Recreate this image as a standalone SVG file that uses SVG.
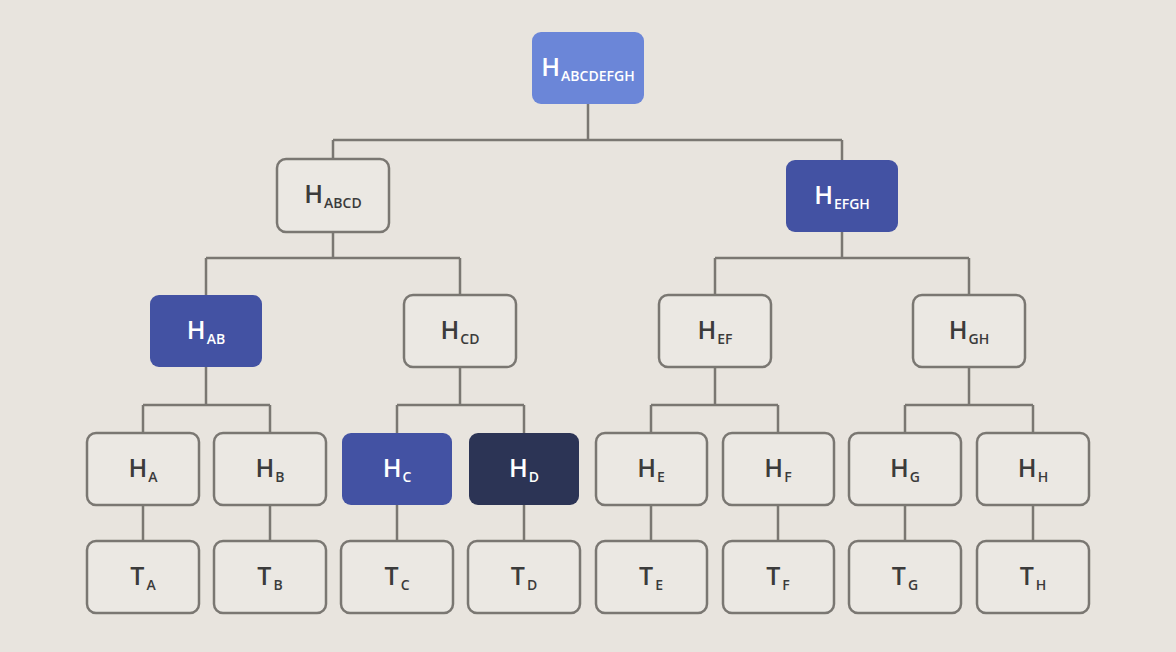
<svg xmlns="http://www.w3.org/2000/svg" width="1176" height="652" viewBox="0 0 1176 652">
<style>
.bg{fill:#e8e4de}
.box{fill:#ebe8e3;stroke:#7a7772;stroke-width:2.5}
.root{fill:#6b86d8}
.blue{fill:#4352a3}
.dark{fill:#2c3455}
.lbl{font-family:"Open Sans","Liberation Sans",sans-serif;font-weight:600;text-anchor:middle;fill:#3b3b3b}
.lbl.w{fill:#ffffff}
.big{font-size:25px}
.sub{font-size:14px}
.conn{fill:none;stroke:#7a7772;stroke-width:2.5}
</style>
<rect class="bg" x="0" y="0" width="1176" height="652"/>
<g id="connectors" class="conn">
<path d="M588 104V140M333 140H842M333 140V160M842 140V160"/>
<path d="M333 232V258M206 258H460M206 258V295M460 258V295"/>
<path d="M842 232V258M715 258H969M715 258V295M969 258V295"/>
<path d="M206 367V405M143 405H270M143 405V433M270 405V433"/>
<path d="M460 367V405M397 405H524M397 405V433M524 405V433"/>
<path d="M715 367V405M651 405H778M651 405V433M778 405V433"/>
<path d="M969 367V405M905 405H1033M905 405V433M1033 405V433"/>
<path d="M143 505V541M270 505V541M397 505V541M524 505V541M651 505V541M778 505V541M905 505V541M1033 505V541"/>
</g>
<g id="n-root"><rect class="root" x="532" y="32" width="112" height="72" rx="9"/><text class="lbl w" x="588" y="76"><tspan class="big">H</tspan><tspan class="sub" dx="1" dy="5">ABCDEFGH</tspan></text></g>
<g id="n-abcd"><rect class="box" x="277" y="159" width="112" height="73" rx="9"/><text class="lbl" x="333" y="203"><tspan class="big">H</tspan><tspan class="sub" dx="1" dy="5">ABCD</tspan></text></g>
<g id="n-efgh"><rect class="blue" x="786" y="160" width="112" height="72" rx="9"/><text class="lbl w" x="842" y="204"><tspan class="big">H</tspan><tspan class="sub" dx="1" dy="5">EFGH</tspan></text></g>
<g id="n-ab"><rect class="blue" x="150" y="295" width="112" height="72" rx="9"/><text class="lbl w" x="206" y="339"><tspan class="big">H</tspan><tspan class="sub" dx="1" dy="5">AB</tspan></text></g>
<g id="n-cd"><rect class="box" x="404" y="295" width="112" height="72" rx="9"/><text class="lbl" x="460" y="339"><tspan class="big">H</tspan><tspan class="sub" dx="1" dy="5">CD</tspan></text></g>
<g id="n-ef"><rect class="box" x="659" y="295" width="112" height="72" rx="9"/><text class="lbl" x="715" y="339"><tspan class="big">H</tspan><tspan class="sub" dx="1" dy="5">EF</tspan></text></g>
<g id="n-gh"><rect class="box" x="913" y="295" width="112" height="72" rx="9"/><text class="lbl" x="969" y="339"><tspan class="big">H</tspan><tspan class="sub" dx="1" dy="5">GH</tspan></text></g>
<g id="n-ha"><rect class="box" x="87" y="433" width="112" height="72" rx="9"/><text class="lbl" x="143" y="477"><tspan class="big">H</tspan><tspan class="sub" dx="1" dy="5">A</tspan></text></g>
<g id="n-hb"><rect class="box" x="214" y="433" width="112" height="72" rx="9"/><text class="lbl" x="270" y="477"><tspan class="big">H</tspan><tspan class="sub" dx="1" dy="5">B</tspan></text></g>
<g id="n-hc"><rect class="blue" x="342" y="433" width="110" height="72" rx="9"/><text class="lbl w" x="397" y="477"><tspan class="big">H</tspan><tspan class="sub" dx="1" dy="5">C</tspan></text></g>
<g id="n-hd"><rect class="dark" x="469" y="433" width="110" height="72" rx="9"/><text class="lbl w" x="524" y="477"><tspan class="big">H</tspan><tspan class="sub" dx="1" dy="5">D</tspan></text></g>
<g id="n-he"><rect class="box" x="596" y="433" width="111" height="72" rx="9"/><text class="lbl" x="651" y="477"><tspan class="big">H</tspan><tspan class="sub" dx="1" dy="5">E</tspan></text></g>
<g id="n-hf"><rect class="box" x="723" y="433" width="111" height="72" rx="9"/><text class="lbl" x="778" y="477"><tspan class="big">H</tspan><tspan class="sub" dx="1" dy="5">F</tspan></text></g>
<g id="n-hg"><rect class="box" x="849" y="433" width="112" height="72" rx="9"/><text class="lbl" x="905" y="477"><tspan class="big">H</tspan><tspan class="sub" dx="1" dy="5">G</tspan></text></g>
<g id="n-hh"><rect class="box" x="977" y="433" width="112" height="72" rx="9"/><text class="lbl" x="1033" y="477"><tspan class="big">H</tspan><tspan class="sub" dx="1" dy="5">H</tspan></text></g>
<g id="n-ta"><rect class="box" x="87" y="541" width="112" height="72" rx="9"/><text class="lbl" x="143" y="585"><tspan class="big">T</tspan><tspan class="sub" dx="2" dy="5">A</tspan></text></g>
<g id="n-tb"><rect class="box" x="214" y="541" width="112" height="72" rx="9"/><text class="lbl" x="270" y="585"><tspan class="big">T</tspan><tspan class="sub" dx="2" dy="5">B</tspan></text></g>
<g id="n-tc"><rect class="box" x="341" y="541" width="112" height="72" rx="9"/><text class="lbl" x="397" y="585"><tspan class="big">T</tspan><tspan class="sub" dx="2" dy="5">C</tspan></text></g>
<g id="n-td"><rect class="box" x="468" y="541" width="112" height="72" rx="9"/><text class="lbl" x="524" y="585"><tspan class="big">T</tspan><tspan class="sub" dx="2" dy="5">D</tspan></text></g>
<g id="n-te"><rect class="box" x="596" y="541" width="111" height="72" rx="9"/><text class="lbl" x="651" y="585"><tspan class="big">T</tspan><tspan class="sub" dx="2" dy="5">E</tspan></text></g>
<g id="n-tf"><rect class="box" x="723" y="541" width="111" height="72" rx="9"/><text class="lbl" x="778" y="585"><tspan class="big">T</tspan><tspan class="sub" dx="2" dy="5">F</tspan></text></g>
<g id="n-tg"><rect class="box" x="849" y="541" width="112" height="72" rx="9"/><text class="lbl" x="905" y="585"><tspan class="big">T</tspan><tspan class="sub" dx="2" dy="5">G</tspan></text></g>
<g id="n-th"><rect class="box" x="977" y="541" width="112" height="72" rx="9"/><text class="lbl" x="1033" y="585"><tspan class="big">T</tspan><tspan class="sub" dx="2" dy="5">H</tspan></text></g>
</svg>
